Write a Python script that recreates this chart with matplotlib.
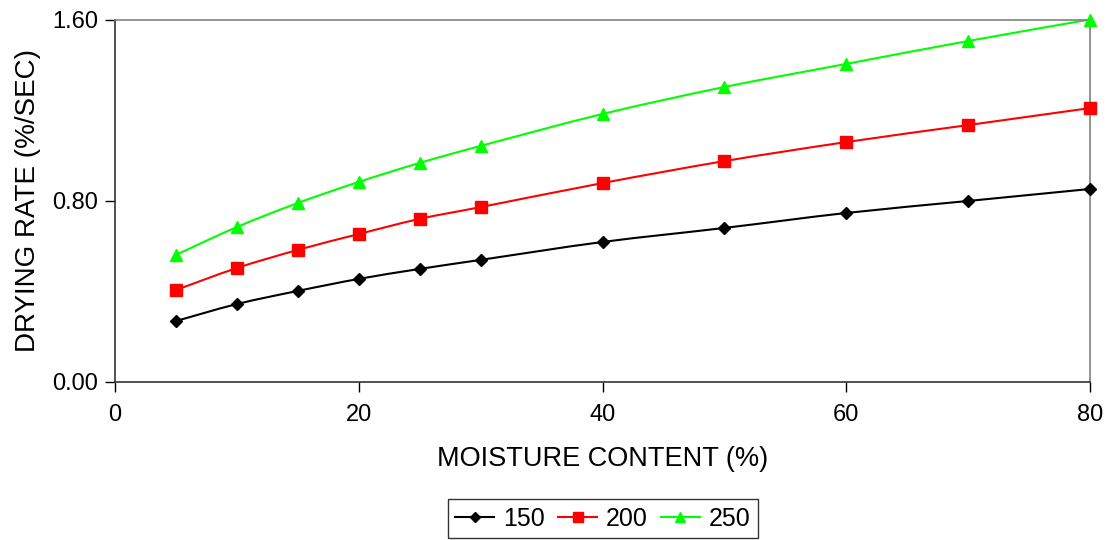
import matplotlib
matplotlib.use("Agg")
import matplotlib.pyplot as plt
from matplotlib.ticker import FormatStrFormatter
from matplotlib.path import Path
from matplotlib.patches import PathPatch
from matplotlib.lines import Line2D

plt.rcParams['font.family'] = ['Liberation Sans', 'DejaVu Sans']

moisture = [5, 10, 15, 20, 25, 30, 40, 50, 60, 70, 80]
rate_150 = [0.269, 0.344, 0.402, 0.455, 0.499, 0.539, 0.618, 0.680, 0.746, 0.799, 0.852]
rate_200 = [0.406, 0.503, 0.583, 0.653, 0.720, 0.772, 0.878, 0.975, 1.059, 1.134, 1.209]
rate_250 = [0.561, 0.684, 0.790, 0.883, 0.967, 1.042, 1.183, 1.302, 1.404, 1.505, 1.600]
series_labels = ['150', '200', '250']


def smooth_path(xs, ys):
    """Cubic Bezier through the points (Catmull-Rom style control points)."""
    pts = list(zip(xs, ys))
    n = len(pts)
    verts = [pts[0]]
    codes = [Path.MOVETO]
    for i in range(n - 1):
        p0 = pts[i - 1] if i > 0 else pts[i]
        p1 = pts[i]
        p2 = pts[i + 1]
        p3 = pts[i + 2] if i + 2 < n else pts[i + 1]
        c1 = (p1[0] + (p2[0] - p0[0]) / 6, p1[1] + (p2[1] - p0[1]) / 6)
        c2 = (p2[0] - (p3[0] - p1[0]) / 6, p2[1] - (p3[1] - p1[1]) / 6)
        verts += [c1, c2, p2]
        codes += [Path.CURVE4] * 3
    return Path(verts, codes)


W, H = 1112, 540
fig = plt.figure(figsize=(W / 100, H / 100), dpi=100)
ax = fig.add_axes([115 / W, 1 - 382 / H, (1090 - 115) / W, (382 - 19.5) / H])

styles = [
    dict(color='black', marker='D', markersize=6),
    dict(color='#ff0000', marker='s', markersize=8.2),
    dict(color='#00ff00', marker='^', markersize=8.8),
]
handles = []
for vals, lab, st in zip([rate_150, rate_200, rate_250], series_labels, styles):
    ax.add_patch(PathPatch(smooth_path(moisture, vals), fill=False,
                           edgecolor=st['color'], linewidth=1.5, clip_on=False))
    ax.plot(moisture, vals, linestyle='none', clip_on=False, zorder=3, **st)
    handles.append(Line2D([], [], linewidth=1.5, label=lab, **st))

ax.set_xlim(0, 80)
ax.set_ylim(0, 1.6)
ax.set_xticks([0, 20, 40, 60, 80])
ax.set_yticks([0, 0.8, 1.6])
ax.yaxis.set_major_formatter(FormatStrFormatter('%.2f'))
ax.tick_params(direction='out', length=7, width=1, labelsize=17, pad=5)
ax.tick_params(axis='x', pad=9)

for side in ('top', 'right'):
    ax.spines[side].set_color('#808080')
    ax.spines[side].set_linewidth(1.2)
for side in ('left', 'bottom'):
    ax.spines[side].set_color('#333333')
    ax.spines[side].set_linewidth(1.2)

ax.set_xlabel('MOISTURE CONTENT (%)', fontsize=19.5, labelpad=14)
ax.set_ylabel('DRYING RATE (%/SEC)', fontsize=20, labelpad=8)

leg = fig.legend(handles=handles, loc='center',
                 bbox_to_anchor=(603 / W, 1 - 518.5 / H), ncol=3,
                 fontsize=18, frameon=True, fancybox=False, edgecolor='black',
                 handlelength=1.56, handletextpad=0.36, columnspacing=0.52,
                 borderpad=0.3, markerscale=0.8)
leg.get_frame().set_linewidth(1.0)

fig.savefig('out.png', dpi=100)
